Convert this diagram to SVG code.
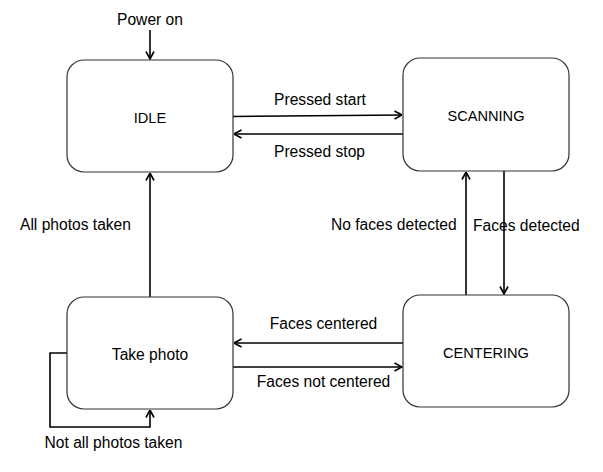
<svg xmlns="http://www.w3.org/2000/svg" width="603" height="472" viewBox="0 0 603 472">
<defs>
<style>
.box{fill:#fff;stroke:#333;stroke-width:1.2}
.t{font-family:"Liberation Sans",Arial,sans-serif;font-size:15.6px;fill:#000}
.u{font-size:14.6px}
.c{text-anchor:middle}
.e{fill:none;stroke:#000;stroke-width:1.6}
</style>
<marker id="a" viewBox="0 0 10 10" refX="9.5" refY="5" markerWidth="10" markerHeight="10" markerUnits="userSpaceOnUse" orient="auto">
<path d="M2,1 L9.5,5 L2,9" fill="none" stroke="#000" stroke-width="1.6"/>
</marker>
</defs>
<rect width="603" height="472" fill="#fff"/>
<g id="connectors">
<path class="e" d="M150,30 V59" marker-end="url(#a)"/>
<path class="e" d="M233,116.5 L402,115" marker-end="url(#a)"/>
<path class="e" d="M403,134 H234" marker-end="url(#a)"/>
<path class="e" d="M150,297 V173" marker-end="url(#a)"/>
<path class="e" d="M466,295 V172" marker-end="url(#a)"/>
<path class="e" d="M504,171 V294" marker-end="url(#a)"/>
<path class="e" d="M403,343 H234" marker-end="url(#a)"/>
<path class="e" d="M233,367 H402" marker-end="url(#a)"/>
<path class="e" d="M67,353 H50 V427 H150 V410" marker-end="url(#a)"/>
<text class="t c" x="150" y="25">Power on</text>
<text class="t c" x="320" y="105">Pressed start</text>
<text class="t c" x="319.5" y="157">Pressed stop</text>
<text class="t" x="20" y="230">All photos taken</text>
<text class="t" x="331" y="230">No faces detected</text>
<text class="t" x="473" y="231">Faces detected</text>
<text class="t c" x="323.5" y="329">Faces centered</text>
<text class="t c" x="323.5" y="387">Faces not centered</text>
<text class="t c" x="113.5" y="448">Not all photos taken</text>
</g>
<g id="idle"><rect class="box" x="67" y="60" width="166" height="112" rx="17"/><text class="t u c" x="150" y="123">IDLE</text></g>
<g id="scanning"><rect class="box" x="403" y="58" width="166" height="113" rx="17"/><text class="t u c" x="486" y="121">SCANNING</text></g>
<g id="takephoto"><rect class="box" x="67" y="297" width="166" height="112" rx="17"/><text class="t c" x="150" y="360">Take photo</text></g>
<g id="centering"><rect class="box" x="403" y="295" width="166" height="112" rx="17"/><text class="t u c" x="486" y="358">CENTERING</text></g>
</svg>
